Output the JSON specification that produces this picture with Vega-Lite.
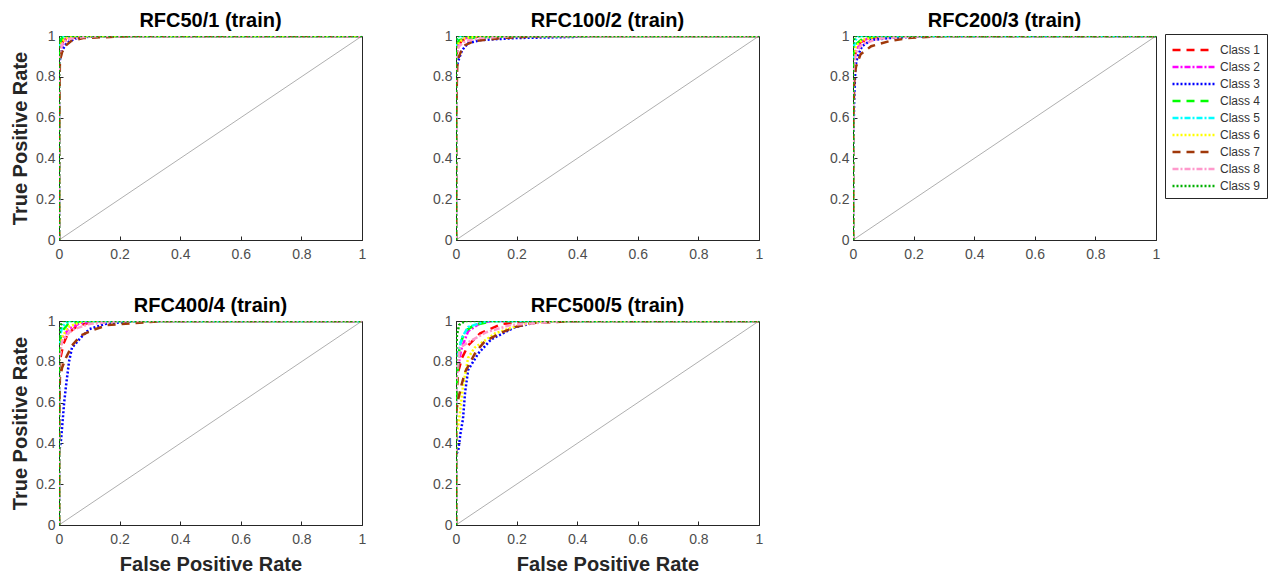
{
"$schema": "https://vega.github.io/schema/vega-lite/v6.json",
"padding": {"left": 9, "top": 10, "right": 5, "bottom": 0},
"background": "white",
"config": {
  "font": "Liberation Sans",
  "view": {"stroke": "#262626", "strokeWidth": 1},
  "title": {"fontSize": 20, "fontWeight": "bold", "color": "#000000", "font": "Liberation Sans", "offset": -2},
  "axis": {"grid": false, "labelFont": "Liberation Sans", "labelFontSize": 14, "labelColor": "#4d4d4d", "titleFont": "Liberation Sans", "titleFontSize": 20, "titleFontWeight": "bold", "titleColor": "#262626", "domainColor": "#262626", "tickColor": "#262626", "tickSize": -4, "labelPadding": 8, "labelFlush": false, "labelOverlap": false},
  "axisX": {"labelPadding": 11, "titlePadding": 8},
  "axisY": {"titlePadding": 5.5},
  "legend": {"orient": "none", "legendX": 1106, "legendY": -2, "strokeColor": "#262626", "fillColor": "white", "padding": 6, "labelFont": "Liberation Sans", "labelFontSize": 12, "labelColor": "#333333", "symbolType": "M-1,0H3.94", "symbolSize": 289, "symbolStrokeWidth": 2.5, "rowPadding": 1, "labelOffset": 29}
},
"datasets": {
 "diag": [{"x": 0, "y": 0}, {"x": 1, "y": 1}],
 "roc": [
{"m":"RFC50/1","c":"Class 1","x":0,"y":0},{"m":"RFC50/1","c":"Class 1","x":0,"y":0.9},{"m":"RFC50/1","c":"Class 1","x":0.005,"y":0.95},{"m":"RFC50/1","c":"Class 1","x":0.015,"y":0.98},{"m":"RFC50/1","c":"Class 1","x":0.04,"y":0.99},{"m":"RFC50/1","c":"Class 1","x":0.1,"y":1},{"m":"RFC50/1","c":"Class 1","x":1,"y":1},
{"m":"RFC50/1","c":"Class 2","x":0,"y":0},{"m":"RFC50/1","c":"Class 2","x":0,"y":0.88},{"m":"RFC50/1","c":"Class 2","x":0.008,"y":0.95},{"m":"RFC50/1","c":"Class 2","x":0.02,"y":0.98},{"m":"RFC50/1","c":"Class 2","x":0.05,"y":1},{"m":"RFC50/1","c":"Class 2","x":1,"y":1},
{"m":"RFC50/1","c":"Class 3","x":0,"y":0},{"m":"RFC50/1","c":"Class 3","x":0,"y":0.86},{"m":"RFC50/1","c":"Class 3","x":0.008,"y":0.92},{"m":"RFC50/1","c":"Class 3","x":0.02,"y":0.955},{"m":"RFC50/1","c":"Class 3","x":0.035,"y":0.975},{"m":"RFC50/1","c":"Class 3","x":0.06,"y":0.99},{"m":"RFC50/1","c":"Class 3","x":0.12,"y":1},{"m":"RFC50/1","c":"Class 3","x":1,"y":1},
{"m":"RFC50/1","c":"Class 4","x":0,"y":0},{"m":"RFC50/1","c":"Class 4","x":0,"y":0.95},{"m":"RFC50/1","c":"Class 4","x":0.01,"y":0.99},{"m":"RFC50/1","c":"Class 4","x":0.03,"y":1},{"m":"RFC50/1","c":"Class 4","x":1,"y":1},
{"m":"RFC50/1","c":"Class 5","x":0,"y":0},{"m":"RFC50/1","c":"Class 5","x":0,"y":0.97},{"m":"RFC50/1","c":"Class 5","x":0.005,"y":1},{"m":"RFC50/1","c":"Class 5","x":1,"y":1},
{"m":"RFC50/1","c":"Class 6","x":0,"y":0},{"m":"RFC50/1","c":"Class 6","x":0,"y":0.93},{"m":"RFC50/1","c":"Class 6","x":0.008,"y":0.97},{"m":"RFC50/1","c":"Class 6","x":0.025,"y":0.99},{"m":"RFC50/1","c":"Class 6","x":0.05,"y":1},{"m":"RFC50/1","c":"Class 6","x":1,"y":1},
{"m":"RFC50/1","c":"Class 7","x":0,"y":0},{"m":"RFC50/1","c":"Class 7","x":0,"y":0.5},{"m":"RFC50/1","c":"Class 7","x":0.003,"y":0.88},{"m":"RFC50/1","c":"Class 7","x":0.01,"y":0.92},{"m":"RFC50/1","c":"Class 7","x":0.02,"y":0.95},{"m":"RFC50/1","c":"Class 7","x":0.04,"y":0.975},{"m":"RFC50/1","c":"Class 7","x":0.08,"y":0.99},{"m":"RFC50/1","c":"Class 7","x":0.25,"y":1},{"m":"RFC50/1","c":"Class 7","x":1,"y":1},
{"m":"RFC50/1","c":"Class 8","x":0,"y":0},{"m":"RFC50/1","c":"Class 8","x":0,"y":0.9},{"m":"RFC50/1","c":"Class 8","x":0.01,"y":0.96},{"m":"RFC50/1","c":"Class 8","x":0.03,"y":0.985},{"m":"RFC50/1","c":"Class 8","x":0.08,"y":0.995},{"m":"RFC50/1","c":"Class 8","x":0.15,"y":1},{"m":"RFC50/1","c":"Class 8","x":1,"y":1},
{"m":"RFC50/1","c":"Class 9","x":0,"y":0},{"m":"RFC50/1","c":"Class 9","x":0,"y":0.98},{"m":"RFC50/1","c":"Class 9","x":0.005,"y":1},{"m":"RFC50/1","c":"Class 9","x":1,"y":1},

{"m":"RFC100/2","c":"Class 1","x":0,"y":0},{"m":"RFC100/2","c":"Class 1","x":0,"y":0.9},{"m":"RFC100/2","c":"Class 1","x":0.008,"y":0.95},{"m":"RFC100/2","c":"Class 1","x":0.02,"y":0.98},{"m":"RFC100/2","c":"Class 1","x":0.06,"y":0.995},{"m":"RFC100/2","c":"Class 1","x":0.12,"y":1},{"m":"RFC100/2","c":"Class 1","x":1,"y":1},
{"m":"RFC100/2","c":"Class 2","x":0,"y":0},{"m":"RFC100/2","c":"Class 2","x":0,"y":0.9},{"m":"RFC100/2","c":"Class 2","x":0.008,"y":0.96},{"m":"RFC100/2","c":"Class 2","x":0.02,"y":0.985},{"m":"RFC100/2","c":"Class 2","x":0.06,"y":1},{"m":"RFC100/2","c":"Class 2","x":1,"y":1},
{"m":"RFC100/2","c":"Class 3","x":0,"y":0},{"m":"RFC100/2","c":"Class 3","x":0,"y":0.84},{"m":"RFC100/2","c":"Class 3","x":0.008,"y":0.88},{"m":"RFC100/2","c":"Class 3","x":0.02,"y":0.93},{"m":"RFC100/2","c":"Class 3","x":0.04,"y":0.965},{"m":"RFC100/2","c":"Class 3","x":0.08,"y":0.98},{"m":"RFC100/2","c":"Class 3","x":0.2,"y":0.99},{"m":"RFC100/2","c":"Class 3","x":0.38,"y":0.995},{"m":"RFC100/2","c":"Class 3","x":0.45,"y":1},{"m":"RFC100/2","c":"Class 3","x":1,"y":1},
{"m":"RFC100/2","c":"Class 4","x":0,"y":0},{"m":"RFC100/2","c":"Class 4","x":0,"y":0.95},{"m":"RFC100/2","c":"Class 4","x":0.01,"y":0.98},{"m":"RFC100/2","c":"Class 4","x":0.05,"y":0.99},{"m":"RFC100/2","c":"Class 4","x":0.1,"y":0.995},{"m":"RFC100/2","c":"Class 4","x":0.2,"y":1},{"m":"RFC100/2","c":"Class 4","x":1,"y":1},
{"m":"RFC100/2","c":"Class 5","x":0,"y":0},{"m":"RFC100/2","c":"Class 5","x":0,"y":0.97},{"m":"RFC100/2","c":"Class 5","x":0.008,"y":1},{"m":"RFC100/2","c":"Class 5","x":1,"y":1},
{"m":"RFC100/2","c":"Class 6","x":0,"y":0},{"m":"RFC100/2","c":"Class 6","x":0,"y":0.93},{"m":"RFC100/2","c":"Class 6","x":0.01,"y":0.97},{"m":"RFC100/2","c":"Class 6","x":0.03,"y":0.99},{"m":"RFC100/2","c":"Class 6","x":0.07,"y":1},{"m":"RFC100/2","c":"Class 6","x":1,"y":1},
{"m":"RFC100/2","c":"Class 7","x":0,"y":0},{"m":"RFC100/2","c":"Class 7","x":0,"y":0.58},{"m":"RFC100/2","c":"Class 7","x":0.004,"y":0.85},{"m":"RFC100/2","c":"Class 7","x":0.01,"y":0.9},{"m":"RFC100/2","c":"Class 7","x":0.018,"y":0.93},{"m":"RFC100/2","c":"Class 7","x":0.03,"y":0.955},{"m":"RFC100/2","c":"Class 7","x":0.06,"y":0.975},{"m":"RFC100/2","c":"Class 7","x":0.15,"y":0.99},{"m":"RFC100/2","c":"Class 7","x":0.3,"y":1},{"m":"RFC100/2","c":"Class 7","x":1,"y":1},
{"m":"RFC100/2","c":"Class 8","x":0,"y":0},{"m":"RFC100/2","c":"Class 8","x":0,"y":0.9},{"m":"RFC100/2","c":"Class 8","x":0.01,"y":0.95},{"m":"RFC100/2","c":"Class 8","x":0.03,"y":0.975},{"m":"RFC100/2","c":"Class 8","x":0.08,"y":0.99},{"m":"RFC100/2","c":"Class 8","x":0.2,"y":1},{"m":"RFC100/2","c":"Class 8","x":1,"y":1},
{"m":"RFC100/2","c":"Class 9","x":0,"y":0},{"m":"RFC100/2","c":"Class 9","x":0,"y":0.98},{"m":"RFC100/2","c":"Class 9","x":0.006,"y":1},{"m":"RFC100/2","c":"Class 9","x":1,"y":1},

{"m":"RFC200/3","c":"Class 1","x":0,"y":0},{"m":"RFC200/3","c":"Class 1","x":0,"y":0.85},{"m":"RFC200/3","c":"Class 1","x":0.01,"y":0.93},{"m":"RFC200/3","c":"Class 1","x":0.025,"y":0.97},{"m":"RFC200/3","c":"Class 1","x":0.06,"y":0.99},{"m":"RFC200/3","c":"Class 1","x":0.12,"y":1},{"m":"RFC200/3","c":"Class 1","x":1,"y":1},
{"m":"RFC200/3","c":"Class 2","x":0,"y":0},{"m":"RFC200/3","c":"Class 2","x":0,"y":0.85},{"m":"RFC200/3","c":"Class 2","x":0.01,"y":0.93},{"m":"RFC200/3","c":"Class 2","x":0.03,"y":0.975},{"m":"RFC200/3","c":"Class 2","x":0.07,"y":1},{"m":"RFC200/3","c":"Class 2","x":1,"y":1},
{"m":"RFC200/3","c":"Class 3","x":0,"y":0},{"m":"RFC200/3","c":"Class 3","x":0,"y":0.38},{"m":"RFC200/3","c":"Class 3","x":0.004,"y":0.7},{"m":"RFC200/3","c":"Class 3","x":0.008,"y":0.85},{"m":"RFC200/3","c":"Class 3","x":0.015,"y":0.9},{"m":"RFC200/3","c":"Class 3","x":0.03,"y":0.95},{"m":"RFC200/3","c":"Class 3","x":0.06,"y":0.98},{"m":"RFC200/3","c":"Class 3","x":0.12,"y":0.99},{"m":"RFC200/3","c":"Class 3","x":0.25,"y":1},{"m":"RFC200/3","c":"Class 3","x":1,"y":1},
{"m":"RFC200/3","c":"Class 4","x":0,"y":0},{"m":"RFC200/3","c":"Class 4","x":0,"y":0.9},{"m":"RFC200/3","c":"Class 4","x":0.01,"y":0.96},{"m":"RFC200/3","c":"Class 4","x":0.03,"y":0.985},{"m":"RFC200/3","c":"Class 4","x":0.08,"y":1},{"m":"RFC200/3","c":"Class 4","x":1,"y":1},
{"m":"RFC200/3","c":"Class 5","x":0,"y":0},{"m":"RFC200/3","c":"Class 5","x":0,"y":0.93},{"m":"RFC200/3","c":"Class 5","x":0.008,"y":0.98},{"m":"RFC200/3","c":"Class 5","x":0.02,"y":1},{"m":"RFC200/3","c":"Class 5","x":1,"y":1},
{"m":"RFC200/3","c":"Class 6","x":0,"y":0},{"m":"RFC200/3","c":"Class 6","x":0,"y":0.88},{"m":"RFC200/3","c":"Class 6","x":0.01,"y":0.95},{"m":"RFC200/3","c":"Class 6","x":0.03,"y":0.98},{"m":"RFC200/3","c":"Class 6","x":0.08,"y":1},{"m":"RFC200/3","c":"Class 6","x":1,"y":1},
{"m":"RFC200/3","c":"Class 7","x":0,"y":0},{"m":"RFC200/3","c":"Class 7","x":0,"y":0.55},{"m":"RFC200/3","c":"Class 7","x":0.005,"y":0.8},{"m":"RFC200/3","c":"Class 7","x":0.01,"y":0.85},{"m":"RFC200/3","c":"Class 7","x":0.025,"y":0.91},{"m":"RFC200/3","c":"Class 7","x":0.06,"y":0.95},{"m":"RFC200/3","c":"Class 7","x":0.12,"y":0.975},{"m":"RFC200/3","c":"Class 7","x":0.18,"y":0.99},{"m":"RFC200/3","c":"Class 7","x":0.3,"y":1},{"m":"RFC200/3","c":"Class 7","x":1,"y":1},
{"m":"RFC200/3","c":"Class 8","x":0,"y":0},{"m":"RFC200/3","c":"Class 8","x":0,"y":0.82},{"m":"RFC200/3","c":"Class 8","x":0.01,"y":0.92},{"m":"RFC200/3","c":"Class 8","x":0.03,"y":0.96},{"m":"RFC200/3","c":"Class 8","x":0.08,"y":0.985},{"m":"RFC200/3","c":"Class 8","x":0.15,"y":0.995},{"m":"RFC200/3","c":"Class 8","x":0.25,"y":1},{"m":"RFC200/3","c":"Class 8","x":1,"y":1},
{"m":"RFC200/3","c":"Class 9","x":0,"y":0},{"m":"RFC200/3","c":"Class 9","x":0,"y":0.96},{"m":"RFC200/3","c":"Class 9","x":0.006,"y":1},{"m":"RFC200/3","c":"Class 9","x":1,"y":1},

{"m":"RFC400/4","c":"Class 1","x":0,"y":0},{"m":"RFC400/4","c":"Class 1","x":0,"y":0.7},{"m":"RFC400/4","c":"Class 1","x":0.005,"y":0.82},{"m":"RFC400/4","c":"Class 1","x":0.015,"y":0.89},{"m":"RFC400/4","c":"Class 1","x":0.03,"y":0.94},{"m":"RFC400/4","c":"Class 1","x":0.06,"y":0.975},{"m":"RFC400/4","c":"Class 1","x":0.12,"y":1},{"m":"RFC400/4","c":"Class 1","x":1,"y":1},
{"m":"RFC400/4","c":"Class 2","x":0,"y":0},{"m":"RFC400/4","c":"Class 2","x":0,"y":0.82},{"m":"RFC400/4","c":"Class 2","x":0.01,"y":0.91},{"m":"RFC400/4","c":"Class 2","x":0.03,"y":0.96},{"m":"RFC400/4","c":"Class 2","x":0.07,"y":0.99},{"m":"RFC400/4","c":"Class 2","x":0.12,"y":1},{"m":"RFC400/4","c":"Class 2","x":1,"y":1},
{"m":"RFC400/4","c":"Class 3","x":0,"y":0},{"m":"RFC400/4","c":"Class 3","x":0,"y":0.35},{"m":"RFC400/4","c":"Class 3","x":0.007,"y":0.42},{"m":"RFC400/4","c":"Class 3","x":0.017,"y":0.6},{"m":"RFC400/4","c":"Class 3","x":0.023,"y":0.68},{"m":"RFC400/4","c":"Class 3","x":0.033,"y":0.8},{"m":"RFC400/4","c":"Class 3","x":0.043,"y":0.87},{"m":"RFC400/4","c":"Class 3","x":0.073,"y":0.92},{"m":"RFC400/4","c":"Class 3","x":0.1,"y":0.96},{"m":"RFC400/4","c":"Class 3","x":0.15,"y":0.985},{"m":"RFC400/4","c":"Class 3","x":0.25,"y":1},{"m":"RFC400/4","c":"Class 3","x":1,"y":1},
{"m":"RFC400/4","c":"Class 4","x":0,"y":0},{"m":"RFC400/4","c":"Class 4","x":0,"y":0.88},{"m":"RFC400/4","c":"Class 4","x":0.01,"y":0.95},{"m":"RFC400/4","c":"Class 4","x":0.03,"y":0.985},{"m":"RFC400/4","c":"Class 4","x":0.08,"y":1},{"m":"RFC400/4","c":"Class 4","x":1,"y":1},
{"m":"RFC400/4","c":"Class 5","x":0,"y":0},{"m":"RFC400/4","c":"Class 5","x":0,"y":0.9},{"m":"RFC400/4","c":"Class 5","x":0.01,"y":0.97},{"m":"RFC400/4","c":"Class 5","x":0.03,"y":1},{"m":"RFC400/4","c":"Class 5","x":1,"y":1},
{"m":"RFC400/4","c":"Class 6","x":0,"y":0},{"m":"RFC400/4","c":"Class 6","x":0,"y":0.8},{"m":"RFC400/4","c":"Class 6","x":0.01,"y":0.92},{"m":"RFC400/4","c":"Class 6","x":0.03,"y":0.97},{"m":"RFC400/4","c":"Class 6","x":0.08,"y":1},{"m":"RFC400/4","c":"Class 6","x":1,"y":1},
{"m":"RFC400/4","c":"Class 7","x":0,"y":0},{"m":"RFC400/4","c":"Class 7","x":0,"y":0.5},{"m":"RFC400/4","c":"Class 7","x":0.003,"y":0.72},{"m":"RFC400/4","c":"Class 7","x":0.01,"y":0.77},{"m":"RFC400/4","c":"Class 7","x":0.023,"y":0.82},{"m":"RFC400/4","c":"Class 7","x":0.043,"y":0.88},{"m":"RFC400/4","c":"Class 7","x":0.073,"y":0.93},{"m":"RFC400/4","c":"Class 7","x":0.11,"y":0.955},{"m":"RFC400/4","c":"Class 7","x":0.16,"y":0.98},{"m":"RFC400/4","c":"Class 7","x":0.25,"y":0.99},{"m":"RFC400/4","c":"Class 7","x":0.35,"y":1},{"m":"RFC400/4","c":"Class 7","x":1,"y":1},
{"m":"RFC400/4","c":"Class 8","x":0,"y":0},{"m":"RFC400/4","c":"Class 8","x":0,"y":0.8},{"m":"RFC400/4","c":"Class 8","x":0.01,"y":0.9},{"m":"RFC400/4","c":"Class 8","x":0.04,"y":0.955},{"m":"RFC400/4","c":"Class 8","x":0.1,"y":0.985},{"m":"RFC400/4","c":"Class 8","x":0.2,"y":1},{"m":"RFC400/4","c":"Class 8","x":1,"y":1},
{"m":"RFC400/4","c":"Class 9","x":0,"y":0},{"m":"RFC400/4","c":"Class 9","x":0,"y":0.92},{"m":"RFC400/4","c":"Class 9","x":0.006,"y":0.98},{"m":"RFC400/4","c":"Class 9","x":0.015,"y":1},{"m":"RFC400/4","c":"Class 9","x":1,"y":1},

{"m":"RFC500/5","c":"Class 1","x":0,"y":0},{"m":"RFC500/5","c":"Class 1","x":0,"y":0.6},{"m":"RFC500/5","c":"Class 1","x":0.007,"y":0.75},{"m":"RFC500/5","c":"Class 1","x":0.02,"y":0.82},{"m":"RFC500/5","c":"Class 1","x":0.04,"y":0.88},{"m":"RFC500/5","c":"Class 1","x":0.08,"y":0.94},{"m":"RFC500/5","c":"Class 1","x":0.15,"y":0.985},{"m":"RFC500/5","c":"Class 1","x":0.25,"y":1},{"m":"RFC500/5","c":"Class 1","x":1,"y":1},
{"m":"RFC500/5","c":"Class 2","x":0,"y":0},{"m":"RFC500/5","c":"Class 2","x":0,"y":0.72},{"m":"RFC500/5","c":"Class 2","x":0.01,"y":0.8},{"m":"RFC500/5","c":"Class 2","x":0.017,"y":0.86},{"m":"RFC500/5","c":"Class 2","x":0.04,"y":0.95},{"m":"RFC500/5","c":"Class 2","x":0.08,"y":0.99},{"m":"RFC500/5","c":"Class 2","x":0.12,"y":1},{"m":"RFC500/5","c":"Class 2","x":1,"y":1},
{"m":"RFC500/5","c":"Class 3","x":0,"y":0},{"m":"RFC500/5","c":"Class 3","x":0,"y":0.35},{"m":"RFC500/5","c":"Class 3","x":0.007,"y":0.36},{"m":"RFC500/5","c":"Class 3","x":0.015,"y":0.45},{"m":"RFC500/5","c":"Class 3","x":0.023,"y":0.52},{"m":"RFC500/5","c":"Class 3","x":0.03,"y":0.65},{"m":"RFC500/5","c":"Class 3","x":0.04,"y":0.76},{"m":"RFC500/5","c":"Class 3","x":0.073,"y":0.84},{"m":"RFC500/5","c":"Class 3","x":0.116,"y":0.91},{"m":"RFC500/5","c":"Class 3","x":0.195,"y":0.97},{"m":"RFC500/5","c":"Class 3","x":0.27,"y":0.995},{"m":"RFC500/5","c":"Class 3","x":0.32,"y":1},{"m":"RFC500/5","c":"Class 3","x":1,"y":1},
{"m":"RFC500/5","c":"Class 4","x":0,"y":0},{"m":"RFC500/5","c":"Class 4","x":0,"y":0.6},{"m":"RFC500/5","c":"Class 4","x":0.005,"y":0.75},{"m":"RFC500/5","c":"Class 4","x":0.012,"y":0.88},{"m":"RFC500/5","c":"Class 4","x":0.03,"y":0.95},{"m":"RFC500/5","c":"Class 4","x":0.06,"y":0.98},{"m":"RFC500/5","c":"Class 4","x":0.12,"y":1},{"m":"RFC500/5","c":"Class 4","x":1,"y":1},
{"m":"RFC500/5","c":"Class 5","x":0,"y":0},{"m":"RFC500/5","c":"Class 5","x":0,"y":0.75},{"m":"RFC500/5","c":"Class 5","x":0.008,"y":0.85},{"m":"RFC500/5","c":"Class 5","x":0.02,"y":0.92},{"m":"RFC500/5","c":"Class 5","x":0.04,"y":0.97},{"m":"RFC500/5","c":"Class 5","x":0.1,"y":1},{"m":"RFC500/5","c":"Class 5","x":1,"y":1},
{"m":"RFC500/5","c":"Class 6","x":0,"y":0},{"m":"RFC500/5","c":"Class 6","x":0,"y":0.45},{"m":"RFC500/5","c":"Class 6","x":0.007,"y":0.48},{"m":"RFC500/5","c":"Class 6","x":0.013,"y":0.55},{"m":"RFC500/5","c":"Class 6","x":0.023,"y":0.68},{"m":"RFC500/5","c":"Class 6","x":0.04,"y":0.82},{"m":"RFC500/5","c":"Class 6","x":0.062,"y":0.87},{"m":"RFC500/5","c":"Class 6","x":0.13,"y":0.94},{"m":"RFC500/5","c":"Class 6","x":0.21,"y":0.98},{"m":"RFC500/5","c":"Class 6","x":0.3,"y":1},{"m":"RFC500/5","c":"Class 6","x":1,"y":1},
{"m":"RFC500/5","c":"Class 7","x":0,"y":0},{"m":"RFC500/5","c":"Class 7","x":0,"y":0.55},{"m":"RFC500/5","c":"Class 7","x":0.008,"y":0.62},{"m":"RFC500/5","c":"Class 7","x":0.017,"y":0.68},{"m":"RFC500/5","c":"Class 7","x":0.03,"y":0.75},{"m":"RFC500/5","c":"Class 7","x":0.046,"y":0.795},{"m":"RFC500/5","c":"Class 7","x":0.066,"y":0.85},{"m":"RFC500/5","c":"Class 7","x":0.095,"y":0.9},{"m":"RFC500/5","c":"Class 7","x":0.145,"y":0.94},{"m":"RFC500/5","c":"Class 7","x":0.195,"y":0.97},{"m":"RFC500/5","c":"Class 7","x":0.25,"y":0.99},{"m":"RFC500/5","c":"Class 7","x":0.4,"y":1},{"m":"RFC500/5","c":"Class 7","x":1,"y":1},
{"m":"RFC500/5","c":"Class 8","x":0,"y":0},{"m":"RFC500/5","c":"Class 8","x":0,"y":0.65},{"m":"RFC500/5","c":"Class 8","x":0.005,"y":0.78},{"m":"RFC500/5","c":"Class 8","x":0.013,"y":0.87},{"m":"RFC500/5","c":"Class 8","x":0.046,"y":0.9},{"m":"RFC500/5","c":"Class 8","x":0.1,"y":0.945},{"m":"RFC500/5","c":"Class 8","x":0.18,"y":0.98},{"m":"RFC500/5","c":"Class 8","x":0.35,"y":1},{"m":"RFC500/5","c":"Class 8","x":1,"y":1},
{"m":"RFC500/5","c":"Class 9","x":0,"y":0},{"m":"RFC500/5","c":"Class 9","x":0,"y":0.82},{"m":"RFC500/5","c":"Class 9","x":0.003,"y":0.93},{"m":"RFC500/5","c":"Class 9","x":0.01,"y":0.98},{"m":"RFC500/5","c":"Class 9","x":0.03,"y":1},{"m":"RFC500/5","c":"Class 9","x":1,"y":1}
 ]
},
"spacing": 33,
"vconcat": [
 {"hconcat": [
  {"title": "RFC50/1 (train)", "width": 303, "height": 204, "layer": [
   {"data": {"name": "diag"}, "mark": {"type": "line", "color": "#8c8c8c", "strokeWidth": 0.7}, "encoding": {"x": {"field": "x", "type": "quantitative", "scale": {"domain": [0, 1], "nice": false}, "axis": {"values": [0, 0.2, 0.4, 0.6, 0.8, 1], "format": "~g", "title": null}}, "y": {"field": "y", "type": "quantitative", "scale": {"domain": [0, 1], "nice": false}, "axis": {"values": [0, 0.2, 0.4, 0.6, 0.8, 1], "format": "~g", "title": "True Positive Rate"}}}},
   {"data": {"name": "roc"}, "transform": [{"filter": "datum.m == 'RFC50/1'"}], "mark": {"type": "line", "strokeWidth": 2.5, "clip": true}, "encoding": {"x": {"field": "x", "type": "quantitative"}, "y": {"field": "y", "type": "quantitative"}, "color": {"field": "c", "type": "nominal", "scale": {"domain": ["Class 1","Class 2","Class 3","Class 4","Class 5","Class 6","Class 7","Class 8","Class 9"], "range": ["#ff0000","#ff00ff","#0000ff","#00ff00","#00ffff","#ffff00","#a0380a","#ff99cc","#00b000"]}, "legend": {"title": null}}, "strokeDash": {"field": "c", "type": "nominal", "scale": {"domain": ["Class 1","Class 2","Class 3","Class 4","Class 5","Class 6","Class 7","Class 8","Class 9"], "range": [[8,6],[6,2,2,2],[2,2],[8,6],[6,2,2,2],[2,2],[8,6],[6,2,2,2],[2,2]]}, "legend": {"title": null}}, "order": {"value": null}}}
  ]},
  {"title": "RFC100/2 (train)", "width": 303, "height": 204, "layer": [
   {"data": {"name": "diag"}, "mark": {"type": "line", "color": "#8c8c8c", "strokeWidth": 0.7}, "encoding": {"x": {"field": "x", "type": "quantitative", "scale": {"domain": [0, 1], "nice": false}, "axis": {"values": [0, 0.2, 0.4, 0.6, 0.8, 1], "format": "~g", "title": null}}, "y": {"field": "y", "type": "quantitative", "scale": {"domain": [0, 1], "nice": false}, "axis": {"values": [0, 0.2, 0.4, 0.6, 0.8, 1], "format": "~g", "title": null}}}},
   {"data": {"name": "roc"}, "transform": [{"filter": "datum.m == 'RFC100/2'"}], "mark": {"type": "line", "strokeWidth": 2.5, "clip": true}, "encoding": {"x": {"field": "x", "type": "quantitative"}, "y": {"field": "y", "type": "quantitative"}, "color": {"field": "c", "type": "nominal"}, "strokeDash": {"field": "c", "type": "nominal"}, "order": {"value": null}}}
  ]},
  {"title": "RFC200/3 (train)", "width": 303, "height": 204, "layer": [
   {"data": {"name": "diag"}, "mark": {"type": "line", "color": "#8c8c8c", "strokeWidth": 0.7}, "encoding": {"x": {"field": "x", "type": "quantitative", "scale": {"domain": [0, 1], "nice": false}, "axis": {"values": [0, 0.2, 0.4, 0.6, 0.8, 1], "format": "~g", "title": null}}, "y": {"field": "y", "type": "quantitative", "scale": {"domain": [0, 1], "nice": false}, "axis": {"values": [0, 0.2, 0.4, 0.6, 0.8, 1], "format": "~g", "title": null}}}},
   {"data": {"name": "roc"}, "transform": [{"filter": "datum.m == 'RFC200/3'"}], "mark": {"type": "line", "strokeWidth": 2.5, "clip": true}, "encoding": {"x": {"field": "x", "type": "quantitative"}, "y": {"field": "y", "type": "quantitative"}, "color": {"field": "c", "type": "nominal"}, "strokeDash": {"field": "c", "type": "nominal"}, "order": {"value": null}}}
  ]}
 ], "spacing": 65},
 {"hconcat": [
  {"title": "RFC400/4 (train)", "width": 303, "height": 204, "layer": [
   {"data": {"name": "diag"}, "mark": {"type": "line", "color": "#8c8c8c", "strokeWidth": 0.7}, "encoding": {"x": {"field": "x", "type": "quantitative", "scale": {"domain": [0, 1], "nice": false}, "axis": {"values": [0, 0.2, 0.4, 0.6, 0.8, 1], "format": "~g", "title": "False Positive Rate"}}, "y": {"field": "y", "type": "quantitative", "scale": {"domain": [0, 1], "nice": false}, "axis": {"values": [0, 0.2, 0.4, 0.6, 0.8, 1], "format": "~g", "title": "True Positive Rate"}}}},
   {"data": {"name": "roc"}, "transform": [{"filter": "datum.m == 'RFC400/4'"}], "mark": {"type": "line", "strokeWidth": 2.5, "clip": true}, "encoding": {"x": {"field": "x", "type": "quantitative"}, "y": {"field": "y", "type": "quantitative"}, "color": {"field": "c", "type": "nominal"}, "strokeDash": {"field": "c", "type": "nominal"}, "order": {"value": null}}}
  ]},
  {"title": "RFC500/5 (train)", "width": 303, "height": 204, "layer": [
   {"data": {"name": "diag"}, "mark": {"type": "line", "color": "#8c8c8c", "strokeWidth": 0.7}, "encoding": {"x": {"field": "x", "type": "quantitative", "scale": {"domain": [0, 1], "nice": false}, "axis": {"values": [0, 0.2, 0.4, 0.6, 0.8, 1], "format": "~g", "title": "False Positive Rate"}}, "y": {"field": "y", "type": "quantitative", "scale": {"domain": [0, 1], "nice": false}, "axis": {"values": [0, 0.2, 0.4, 0.6, 0.8, 1], "format": "~g", "title": null}}}},
   {"data": {"name": "roc"}, "transform": [{"filter": "datum.m == 'RFC500/5'"}], "mark": {"type": "line", "strokeWidth": 2.5, "clip": true}, "encoding": {"x": {"field": "x", "type": "quantitative"}, "y": {"field": "y", "type": "quantitative"}, "color": {"field": "c", "type": "nominal"}, "strokeDash": {"field": "c", "type": "nominal"}, "order": {"value": null}}}
  ]}
 ], "spacing": 65}
]
}
